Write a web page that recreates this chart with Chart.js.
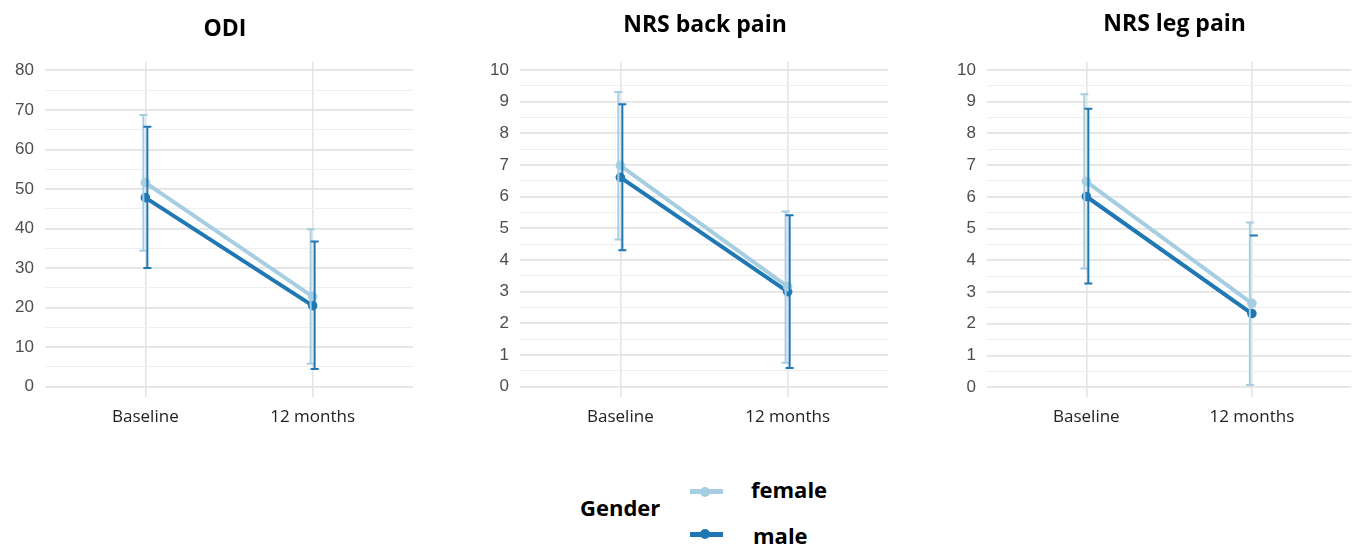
<!DOCTYPE html>
<html>
<head>
<meta charset="utf-8">
<script src="https://cdn.jsdelivr.net/npm/chart.js@4.4.1/dist/chart.umd.min.js"></script>
<style>
  html, body { margin: 0; padding: 0; background: #fff; }
  body { position: relative; width: 1352px; height: 546px; overflow: hidden; }
  .panel { position: absolute; top: 0; }
  .lg-text { position: absolute; font-family: "Open Sans", sans-serif; font-weight: 700; font-size: 22px; line-height: 30px; color: #000; white-space: nowrap; }
  .lg-line { position: absolute; height: 5px; }
  .lg-dot { position: absolute; width: 10px; height: 10px; border-radius: 50%; }
</style>
</head>
<body>
<canvas class="panel" id="odi" width="450" height="440" style="left:0px"></canvas>
<canvas class="panel" id="back" width="450" height="440" style="left:450px"></canvas>
<canvas class="panel" id="leg" width="456" height="440" style="left:900px"></canvas>
<div id="legend"></div>

<script>
// Time points and groups
const timepoints = ['Baseline', '12 months'];
const groupNames = ['female', 'male'];
const groupColors = ['#a6cee3', '#1f78b4'];
const legendTitle = 'Gender';

// Tick labels
const odiTicks = [0, 10, 20, 30, 40, 50, 60, 70, 80];
const nrsTicks = [0, 1, 2, 3, 4, 5, 6, 7, 8, 9, 10];

// ODI: mean and interval bounds per time point
const odiFemaleMean = [51.6, 22.8];
const odiFemaleLow  = [34.4, 5.8];
const odiFemaleHigh = [68.7, 39.8];
const odiMaleMean   = [47.8, 20.5];
const odiMaleLow    = [30.0, 4.5];
const odiMaleHigh   = [65.7, 36.7];

// NRS back pain
const backFemaleMean = [6.98, 3.16];
const backFemaleLow  = [4.65, 0.76];
const backFemaleHigh = [9.30, 5.53];
const backMaleMean   = [6.61, 3.00];
const backMaleLow    = [4.31, 0.59];
const backMaleHigh   = [8.92, 5.41];

// NRS leg pain (male lower bound at 12 months not shown)
const legFemaleMean = [6.48, 2.64];
const legFemaleLow  = [3.74, 0.07];
const legFemaleHigh = [9.23, 5.19];
const legMaleMean   = [6.01, 2.32];
const legMaleLow    = [3.27, null];
const legMaleHigh   = [8.78, 4.78];

// Draws vertical interval bars with caps for every dataset
const errorBarPlugin = {
  id: 'errorBars',
  afterDatasetsDraw(chart) {
    const { ctx, chartArea, scales } = chart;
    const xs = scales.x, ys = scales.y;
    ctx.save();
    ctx.beginPath();
    ctx.rect(chartArea.left, chartArea.top, chartArea.width, chartArea.height);
    ctx.clip();
    chart.data.datasets.forEach(ds => {
      ctx.strokeStyle = ds.borderColor;
      ctx.lineWidth = 2;
      ds.data.forEach((pt, i) => {
        const px = xs.getPixelForValue(pt.x) + ds.barShift;
        const lo = ds.errLow[i], hi = ds.errHigh[i];
        const half = 4;
        ctx.beginPath();
        if (lo !== null && hi !== null) {
          ctx.moveTo(px, ys.getPixelForValue(lo));
          ctx.lineTo(px, ys.getPixelForValue(hi));
        }
        if (hi !== null) {
          const yh = ys.getPixelForValue(hi);
          ctx.moveTo(px - half, yh); ctx.lineTo(px + half, yh);
        }
        if (lo !== null) {
          const yl = ys.getPixelForValue(lo);
          ctx.moveTo(px - half, yl); ctx.lineTo(px + half, yl);
        }
        ctx.stroke();
      });
    });
    ctx.restore();
  }
};

// Panel heading drawn above the plot area
const panelTitlePlugin = {
  id: 'panelTitle',
  afterDraw(chart, args, opts) {
    const { ctx, chartArea } = chart;
    ctx.save();
    ctx.font = '700 23px "Open Sans", sans-serif';
    ctx.fillStyle = '#000';
    ctx.textAlign = 'center';
    ctx.textBaseline = 'alphabetic';
    ctx.fillText(opts.text, (chartArea.left + chartArea.right) / 2 + opts.dx, opts.baseline);
    ctx.restore();
  }
};

function makeDataset(idx, mean, low, high, shift) {
  return {
    label: groupNames[idx],
    data: mean.map((v, i) => ({ x: i + 1, y: v })),
    errLow: low,
    errHigh: high,
    barShift: shift,
    borderColor: groupColors[idx],
    backgroundColor: groupColors[idx],
    pointBackgroundColor: groupColors[idx],
    pointBorderWidth: 0,
    pointRadius: 4.8,
    borderWidth: 4,
    tension: 0
  };
}

function makeChart(id, cfg) {
  const majors = cfg.ticks;
  const step = majors[1] - majors[0];
  return new Chart(document.getElementById(id), {
    type: 'line',
    data: {
      datasets: [
        makeDataset(0, cfg.fMean, cfg.fLow, cfg.fHigh, -2),
        makeDataset(1, cfg.mMean, cfg.mLow, cfg.mHigh, 2)
      ]
    },
    plugins: [errorBarPlugin, panelTitlePlugin],
    options: {
      responsive: false,
      animation: false,
      devicePixelRatio: 1,
      layout: { padding: { top: 62, right: cfg.padRight, bottom: 0, left: 0 } },
      plugins: {
        legend: { display: false },
        tooltip: { enabled: false },
        title: { display: false },
        panelTitle: { text: cfg.title, dx: cfg.titleDx, baseline: cfg.titleBaseline }
      },
      scales: {
        x: {
          type: 'linear',
          min: 0.4,
          max: 2.6,
          afterBuildTicks: s => { s.ticks = timepoints.map((t, i) => ({ value: i + 1 })); },
          afterFit: s => { s.height = 43; },
          grid: { color: '#e5e5e5', lineWidth: 1.6, drawTicks: false },
          border: { display: false },
          ticks: {
            padding: 10,
            autoSkip: false,
            maxRotation: 0,
            color: '#222',
            font: { family: '"Open Sans", sans-serif', size: 17 },
            callback: v => timepoints[Math.round(v) - 1]
          }
        },
        y: {
          type: 'linear',
          min: cfg.min,
          max: cfg.max,
          afterBuildTicks: s => {
            const t = [];
            majors.forEach((v, i) => {
              t.push({ value: v });
              if (i < majors.length - 1) t.push({ value: v + step / 2 });
            });
            s.ticks = t;
          },
          afterFit: s => { s.width = cfg.axisWidth; },
          grid: {
            drawTicks: false,
            color: c => majors.includes(c.tick.value) ? '#e3e3e3' : '#efefef',
            lineWidth: c => majors.includes(c.tick.value) ? 1.8 : 1.1
          },
          border: { display: false },
          ticks: {
            padding: 11,
            autoSkip: false,
            color: '#4d4d4d',
            font: { family: '"Liberation Sans", Arial, sans-serif', size: 17 },
            callback: v => majors.includes(v) ? String(v) : ''
          }
        }
      }
    }
  });
}

makeChart('odi', {
  title: 'ODI', titleDx: -4, titleBaseline: 36,
  ticks: odiTicks, min: -2.6, max: 82.1, axisWidth: 45, padRight: 37,
  fMean: odiFemaleMean, fLow: odiFemaleLow, fHigh: odiFemaleHigh,
  mMean: odiMaleMean, mLow: odiMaleLow, mHigh: odiMaleHigh
});

makeChart('back', {
  title: 'NRS back pain', titleDx: 1, titleBaseline: 31.5,
  ticks: nrsTicks, min: -0.325, max: 10.25, axisWidth: 70, padRight: 12,
  fMean: backFemaleMean, fLow: backFemaleLow, fHigh: backFemaleHigh,
  mMean: backMaleMean, mLow: backMaleLow, mHigh: backMaleHigh
});

makeChart('leg', {
  title: 'NRS leg pain', titleDx: 5.5, titleBaseline: 31,
  ticks: nrsTicks, min: -0.31, max: 10.25, axisWidth: 87, padRight: 0,
  fMean: legFemaleMean, fLow: legFemaleLow, fHigh: legFemaleHigh,
  mMean: legMaleMean, mLow: legMaleLow, mHigh: legMaleHigh
});

// Legend for the gender groups
(function buildLegend() {
  const root = document.getElementById('legend');
  const title = document.createElement('div');
  title.className = 'lg-text';
  title.textContent = legendTitle;
  title.style.left = '580px';
  title.style.top = (506.5 - 15) + 'px';
  root.appendChild(title);

  const rowCenters = [491.5, 534];
  const textCenters = [488.5, 534.5];
  const textLefts = [751, 753];
  groupNames.forEach((name, i) => {
    const line = document.createElement('div');
    line.className = 'lg-line';
    line.style.left = '690px';
    line.style.width = '33px';
    line.style.top = (rowCenters[i] - 2.5) + 'px';
    line.style.background = groupColors[i];
    root.appendChild(line);

    const dot = document.createElement('div');
    dot.className = 'lg-dot';
    dot.style.left = '700px';
    dot.style.top = (rowCenters[i] - 5) + 'px';
    dot.style.background = groupColors[i];
    root.appendChild(dot);

    const label = document.createElement('div');
    label.className = 'lg-text';
    label.textContent = name;
    label.style.left = textLefts[i] + 'px';
    label.style.top = (textCenters[i] - 15) + 'px';
    root.appendChild(label);
  });
})();
</script>
</body>
</html>
